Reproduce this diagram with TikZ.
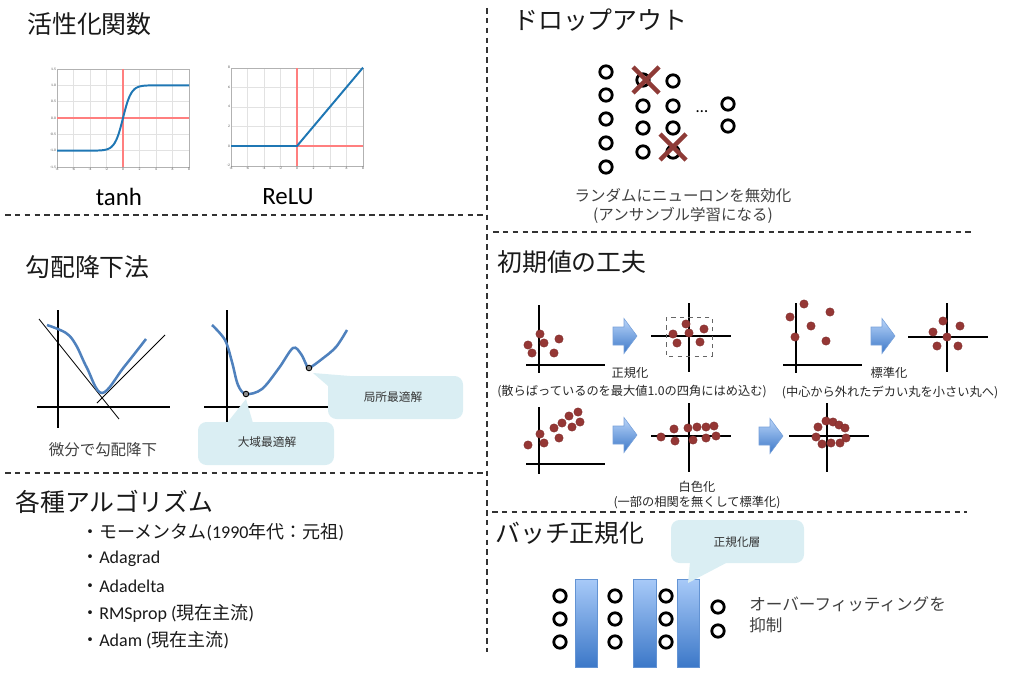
\documentclass[tikz,border=0pt]{standalone}
\usepackage{fontspec}
\setmainfont{Carlito}
\newfontfamily\jp{Noto Sans CJK JP}
\usetikzlibrary{positioning}

\definecolor{inkgrey}{HTML}{404040}
\definecolor{dotred}{HTML}{953735}
\definecolor{crossred}{HTML}{8E3B37}
\definecolor{curveblue}{HTML}{4F81BD}
\definecolor{mplblue}{HTML}{1F77B4}
\definecolor{callbg}{HTML}{DAEEF3}
\definecolor{barlight}{HTML}{A8CAF8}
\definecolor{bardark}{HTML}{3C78C8}
\definecolor{gridgrey}{HTML}{E2E2E2}
\definecolor{refred}{HTML}{FF7F7F}

\tikzset{
  sepline/.style={dash pattern=on 4pt off 3pt, line width=0.9pt, black!80},
  title/.style={font=\jp\fontsize{17.7}{20}\selectfont, anchor=west, inner sep=0, text=black!90},
  listitem/.style={font=\fontsize{12.8}{15}\selectfont, anchor=west, inner sep=0, text=black!90},
  funcname/.style={font=\fontsize{17.7}{20}\selectfont, inner sep=0},
  caption/.style={font=\jp\fontsize{11}{13}\selectfont, text=inkgrey, align=center, inner sep=0},
  smallcap/.style={font=\jp\fontsize{8.7}{10.5}\selectfont, text=black!85, align=center, inner sep=0},
  calltext/.style={font=\jp\fontsize{8.3}{10}\selectfont, text=black!80, inner sep=0},
  ticklbl/.style={font=\fontsize{2.6}{3}\selectfont, text=black!70, inner sep=0.6pt},
  plotgrid/.style={gridgrey, line width=0.3pt},
  plotframe/.style={black!30, line width=0.6pt},
  plotaxis/.style={draw=refred, line width=0.8pt},
  actline/.style={mplblue, line width=1.4pt},
  axis/.style={line width=2pt, black},
  tangent/.style={line width=0.6pt, black},
  costcurve/.style={curveblue, line width=1.8pt},
  neuron/.style={circle, draw=black, line width=2pt, minimum size=0.31cm, inner sep=0},
  dot/.style={circle, fill=dotred, draw=dotred!85!black, line width=0.3pt, minimum size=0.21cm, inner sep=0},
  crossmark/.style={crossred, line width=3.2pt},
  minpoint/.style={circle, fill=black!45, draw=black, line width=0.6pt, minimum size=0.14cm, inner sep=0},
  callout/.style={fill=callbg, rounded corners=6pt},
  normbar/.style={top color=barlight, bottom color=bardark, draw=bardark!80!white, line width=0.4pt},
  blockarrow/.style={top color=barlight!80!white, bottom color=bardark, draw=bardark!70!white, line width=0.4pt}
}

\newcommand{\bluearrow}[2]{%
  \path[blockarrow] (#1,#2) ++(0,-9) -- ++(11,0) -- ++(0,-8.5) -- ++(13,17.5)
    -- ++(-13,17.5) -- ++(0,-8.5) -- ++(-11,0) -- cycle;}

\begin{document}
\begin{tikzpicture}[x=0.025cm,y=-0.025cm]
\useasboundingbox (0,0) rectangle (1024,675);

% separators
\draw[sepline] (487,8) -- (487,652);
\draw[sepline] (5,215) -- (487,215);
\draw[sepline] (5,473) -- (487,473);
\draw[sepline] (493,232) -- (975,232);
\draw[sepline] (492,512) -- (967,512);

% titles
\node[title] (actT) at (27,24) {活性化関数};
\node[title] (gdT) at (25,267) {勾配降下法};
\node[title] (algT) at (15,502) {各種アルゴリズム};
\node[title] (dropT) at (513,20) {ドロップアウト};
\node[title] (initT) at (497,262) {初期値の工夫};
\node[title] (bnT) at (495,533) {バッチ正規化};

% tanh
\foreach \gx in {73.5,90,106.5,139.5,156,172.5} \draw[plotgrid] (\gx,69) -- (\gx,167);
\foreach \gy in {85.3,101.7,134.3,150.7} \draw[plotgrid] (57,\gy) -- (189,\gy);
\draw[plotframe] (57,69) rectangle (189,167);
\draw[plotaxis] (57,118) -- (189,118);
\draw[plotaxis] (123,69) -- (123,167);
\begin{scope}[shift={(123,118)}, xscale=8.25, yscale=-32.67]
  \draw[actline] plot[domain=-8:8, samples=81, smooth] (\x,{tanh(\x)});
  \foreach \ty in {-1.5,-1.0,-0.5,0.0,0.5,1.0,1.5} \node[ticklbl, anchor=east] at (-8,\ty) {\ty};
  \foreach \tx in {-8,-6,-4,-2,0,2,4,6,8} \node[ticklbl, anchor=north] at (\tx,-1.5) {\tx};
\end{scope}
\node[funcname] (tanhL) at (119,197) {tanh};

% ReLU
\foreach \gx in {247.5,264,280.5,313.5,330,346.5} \draw[plotgrid] (\gx,68) -- (\gx,166);
\foreach \gy in {126.4,106.8,87.2} \draw[plotgrid] (231,\gy) -- (363,\gy);
\draw[plotframe] (231,68) rectangle (363,166);
\draw[plotaxis] (231,146) -- (363,146);
\draw[plotaxis] (297,68) -- (297,166);
\begin{scope}[shift={(297,146)}, xscale=8.25, yscale=-9.8]
  \draw[actline] (-8,0) -- (0,0) -- (8,8);
  \foreach \ty in {-2,0,2,4,6,8} \node[ticklbl, anchor=east] at (-8,\ty) {\ty};
  \foreach \tx in {-8,-6,-4,-2,0,2,4,6,8} \node[ticklbl, anchor=north] at (\tx,-2) {\tx};
\end{scope}
\node[funcname] (reluL) at (288,197) {ReLU};

% gradient descent, left
\draw[axis] (58,310) -- (58,428);
\draw[axis] (37,407) -- (170,407);
\coordinate (t1a) at (39,319);
\coordinate (t1b) at (119,419);
\coordinate (t2a) at (97,403);
\coordinate (t2b) at (165,335);
\draw[tangent] (t1a) -- (t1b);
\draw[tangent] (t2a) -- (t2b);
\draw[costcurve] plot[smooth, tension=0.6] coordinates {(47,325) (66,333) (76,345) (87,368) (102,393) (124,367) (146,339)};
\node[caption] (gdCap) at (103,450) {微分で勾配降下};

% gradient descent, right
\draw[axis] (227,310) -- (227,423);
\draw[axis] (204,407) -- (330,407);
\draw[costcurve] plot[smooth, tension=0.55] coordinates {(212,325) (225,340) (232,362) (238,385) (246,394) (262,389) (279,368) (293,348) (301,354) (306,364) (309,368) (322,359) (336,347) (347,330)};
\node[minpoint] (gmin) at (246,394) {};
\node[minpoint] (lmin) at (309,368) {};

% callouts
\fill[callout] (328,376) rectangle (463,419);
\fill[callbg] (313,373) -- (328,386) -- (350,376) -- cycle;
\node[calltext] (localL) at (393,397) {局所最適解};
\fill[callout] (198,422) rectangle (334,465);
\fill[callbg] (246,399) -- (227,423) -- (253,423) -- cycle;
\node[calltext] (globalL) at (267,442) {大域最適解};

% algorithms
\node[listitem] (alg1) at (81,532) {{\jp ・モーメンタム}(1990{\jp 年代：元祖})};
\node[listitem] (alg2) at (81,559) {{\jp ・}Adagrad};
\node[listitem] (alg3) at (81,586) {{\jp ・}Adadelta};
\node[listitem] (alg4) at (81,613) {{\jp ・}RMSprop ({\jp 現在主流})};
\node[listitem] (alg5) at (81,640) {{\jp ・}Adam ({\jp 現在主流})};

% dropout
\node[neuron] (d11) at (606,72) {};
\node[neuron] (d12) at (606,95) {};
\node[neuron] (d13) at (606,119) {};
\node[neuron] (d14) at (606,143) {};
\node[neuron] (d15) at (606,167) {};
\node[neuron] (d21) at (643,80) {};
\node[neuron] (d22) at (643,106) {};
\node[neuron] (d23) at (643,128) {};
\node[neuron] (d24) at (643,152) {};
\node[neuron] (d31) at (673,81) {};
\node[neuron] (d32) at (673,106) {};
\node[neuron] (d33) at (673,128) {};
\node[neuron] (d34) at (673,152) {};
\node[neuron] (d41) at (728,104) {};
\node[neuron] (d42) at (728,126) {};
\node[font=\fontsize{12}{12}\selectfont, inner sep=0] (dots) at (702,112) {\dots};
\draw[crossmark] (633,67) -- (659,93);
\draw[crossmark] (633,93) -- (659,67);
\draw[crossmark] (660,134) -- (686,160);
\draw[crossmark] (660,160) -- (686,134);
\node[caption] (dropCap) at (683,206) {ランダムにニューロンを無効化\\(アンサンブル学習になる)};

% initial values: normalisation
\draw[axis] (539,305) -- (539,373);
\draw[axis] (526,365) -- (605,365);
\foreach \p [count=\i] in {(540,334),(528,345),(532,353),(544,343),(559,339),(554,353)}
  \node[dot] (na\i) at \p {};
\bluearrow{613}{336}
\draw[axis] (689,303) -- (689,372);
\draw[axis] (651,336) -- (731,336);
\draw[dashed, black!60, line width=0.4pt] (666,317) rectangle (712,356);
\foreach \p [count=\i] in {(686,324),(704,329),(673,334),(689,333),(677,343),(700,342)}
  \node[dot] (nb\i) at \p {};
\node[smallcap] (normL) at (630,373) {正規化};
\node[smallcap] (normD) at (632,392) {(散らばっているのを最大値1.0の四角にはめ込む)};

% standardisation
\draw[axis] (796,303) -- (796,373);
\draw[axis] (783,365) -- (862,365);
\foreach \p [count=\i] in {(804,304),(790,317),(830,312),(811,326),(795,337),(826,341)}
  \node[dot] (sa\i) at \p {};
\bluearrow{871}{336}
\draw[axis] (947,303) -- (947,372);
\draw[axis] (908,337) -- (988,337);
\foreach \p [count=\i] in {(943,321),(960,326),(933,332),(947,337),(937,346),(958,346)}
  \node[dot] (sb\i) at \p {};
\node[smallcap] (stdL) at (889,373) {標準化};
\node[smallcap] (stdD) at (890,392) {(中心から外れたデカい丸を小さい丸へ)};

% whitening
\draw[axis] (539,407) -- (539,474);
\draw[axis] (526,464) -- (605,464);
\foreach \p [count=\i] in {(528,445),(540,434),(544,443),(554,428),(559,438),(562,423),(569,416),(572,427),(578,412),(580,422)}
  \node[dot] (wa\i) at \p {};
\bluearrow{613}{435}
\draw[axis] (689,403) -- (689,472);
\draw[axis] (651,436) -- (731,436);
\foreach \p [count=\i] in {(661,437),(674,429),(675,441),(688,428),(697,427),(693,440),(706,427),(706,438),(714,426),(716,436)}
  \node[dot] (wb\i) at \p {};
\bluearrow{759}{436}
\draw[axis] (827,403) -- (827,472);
\draw[axis] (789,436) -- (869,436);
\foreach \p [count=\i] in {(818,427),(826,421),(833,422),(839,425),(845,428),(816,437),(846,438),(822,444),(831,443),(840,443)}
  \node[dot] (wc\i) at \p {};
\node[smallcap] (whiteL) at (697,487) {白色化};
\node[smallcap] (whiteD) at (697,503) {(一部の相関を無くして標準化)};

% batch normalisation
\path[normbar] (575,579) rectangle (597,667);
\path[normbar] (633,579) rectangle (656,667);
\path[normbar] (677,579) rectangle (699,667);
\node[neuron] (b11) at (560,596) {};
\node[neuron] (b12) at (560,619) {};
\node[neuron] (b13) at (560,642) {};
\node[neuron] (b21) at (615,596) {};
\node[neuron] (b22) at (615,619) {};
\node[neuron] (b23) at (615,642) {};
\node[neuron] (b31) at (666,596) {};
\node[neuron] (b32) at (666,619) {};
\node[neuron] (b33) at (666,642) {};
\node[neuron] (b41) at (718,607) {};
\node[neuron] (b42) at (718,631) {};
\fill[callout] (671,520) rectangle (804,563);
\fill[callbg] (688,583) -- (690,562) -- (728,562) -- cycle;
\node[calltext] (layerL) at (737,542) {正規化層};
\node[caption, align=left, anchor=north west, font=\jp\fontsize{11.8}{15}\selectfont] (overfitL) at (749,596) {オーバーフィッティングを\\抑制};

\end{tikzpicture}
\end{document}
